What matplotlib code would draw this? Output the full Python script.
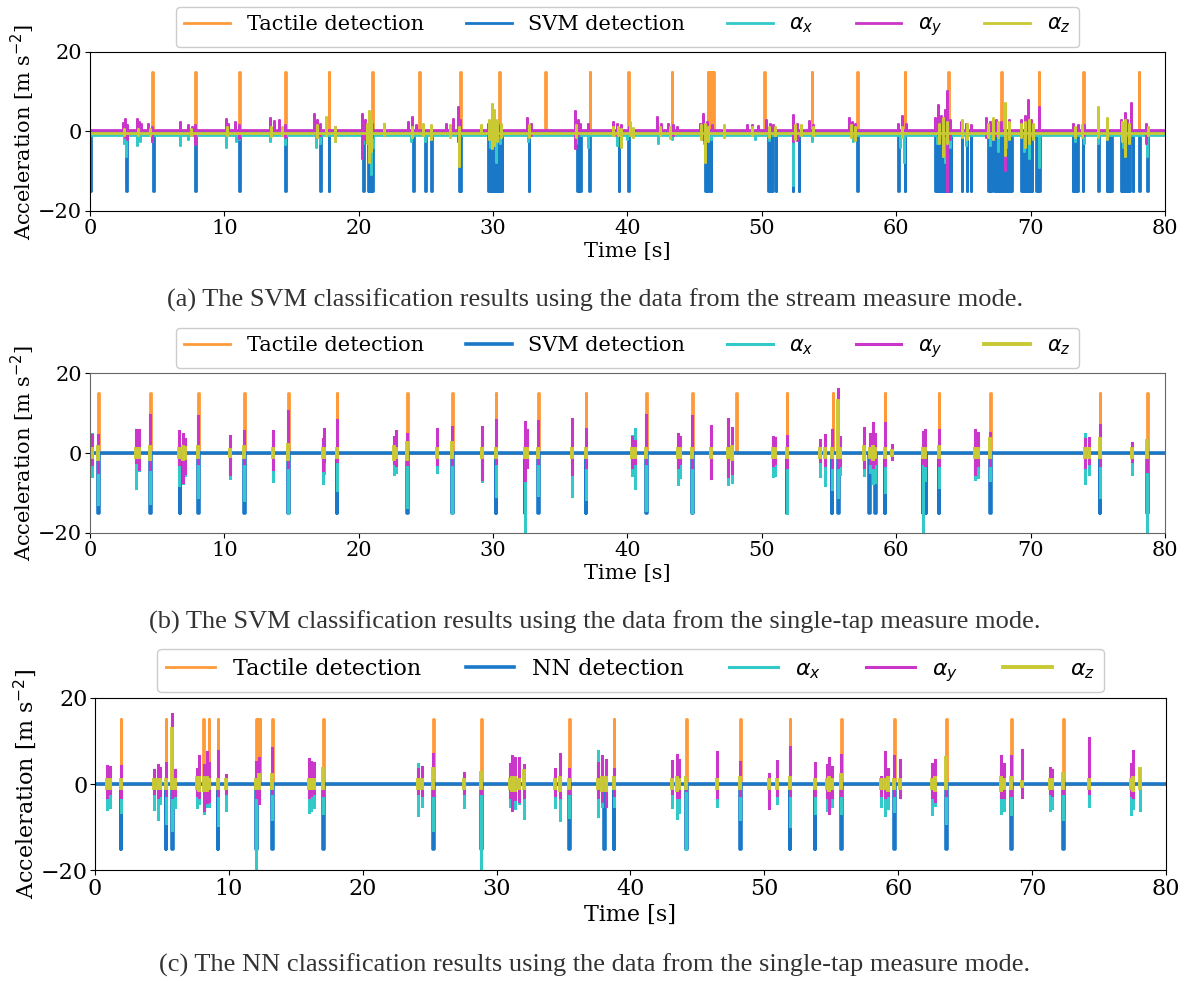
import numpy as np
import matplotlib.pyplot as plt

# ---------------- data ----------------
# tactile sensor pulses (0 -> 15) and classifier pulses (0 -> -15), times in s
tactile_a = [4.64, 7.84, 11.1, 14.53, 17.76, 21.0, 24.48, 27.56, 30.43, 33.88, 37.18,
             40.03, 43.3, 45.98, 46.08, 46.18, 46.3, 46.4, 50.15, 53.72, 57.1, 60.64,
             63.86, 67.81, 70.6, 73.9, 78.05]
svm_a = [0.0, 2.7, 4.7, 7.84, 11.1, 14.53, 17.14, 17.76, 20.34, 20.72, 20.8, 20.9, 21.0,
         24.06, 24.9, 24.97, 25.4, 27.46, 27.55, 29.62, 29.75, 29.86, 30.0, 30.1, 30.2,
         30.3, 30.4, 30.5, 30.65, 32.64, 36.26, 36.38, 36.5, 37.13, 39.34, 40.03, 45.78,
         45.9, 46.02, 46.18, 50.45, 50.6, 50.75, 51.02, 52.3, 52.73, 57.07, 60.17, 60.62,
         62.92, 63.02, 63.12, 63.22, 63.32, 63.42, 63.52, 63.62, 63.72, 63.82, 63.92, 64.04,
         64.88, 65.25, 65.53, 66.84, 66.95, 67.06, 67.31, 67.41, 67.5, 67.6, 67.7, 67.8,
         67.9, 68.0, 68.1, 68.2, 68.3, 68.42, 68.55, 69.3, 69.4, 69.5, 69.6, 69.7, 69.8,
         69.9, 70.0, 70.09, 70.41, 70.52, 70.66, 73.14, 73.25, 73.36, 73.46, 73.88, 75.05,
         75.67, 75.78, 75.88, 75.99, 76.73, 76.83, 76.93, 77.03, 77.15, 77.25, 77.36, 77.6,
         78.1, 78.65]

# stream mode accelerations: resting level and bursts (time, high, low)
ax_a_base, ay_a_base, az_a_base = -1.0, 0.4, -0.3
ay_a = [(2.45, 2.2, -0.5), (2.6, 3.1, -1.5), (2.75, 1.5, -2.0), (3.5, 3.1, 0), (3.65, 2.5, -0.3),
        (3.8, 1.8, 0), (4.3, 1.8, 0), (4.64, 1.2, -2.5), (6.7, 2.5, 0), (7.3, 1.6, 0),
        (7.6, 1.2, -0.5), (7.84, 1.6, -3.2), (10.1, 3.1, 0), (10.3, 2.0, -0.5), (10.8, 2.3, 0),
        (11.1, 1.5, -1.7), (13.4, 3.3, 0), (13.7, 2.6, -0.5), (14.1, 2.9, 0), (14.5, 1.5, -1.5),
        (16.7, 4.4, -0.5), (16.9, 3.0, -1.5), (17.1, 2.0, -0.8), (17.6, 2.0, -0.5),
        (18.2, 1.0, -1.0), (20.27, 4.4, -6.7), (20.5, 3.0, -2.0), (20.8, 4.1, -2.5),
        (21.0, 2.0, -1.5), (21.9, 2.0, 0), (23.7, 2.5, 0), (24.0, 3.7, -0.5), (24.3, 1.5, -0.5),
        (26.5, 2.0, 0), (27.0, 3.1, -0.5), (27.4, 6.2, -2.5), (27.55, 3.0, -1.0),
        (29.6, 2.0, -1.5), (29.9, 3.3, -2.0), (30.2, 2.5, -1.0), (30.5, 1.5, -1.0),
        (32.5, 3.5, 0), (32.8, 2.0, -1.0), (36.1, 5.1, -4.2), (36.3, 3.0, -1.0), (36.5, 2.0, 0),
        (37.1, 1.8, 0), (38.9, 2.5, 0), (39.2, 2.0, -1.0), (39.5, 1.5, 0), (40.1, 1.2, -0.5),
        (42.2, 3.7, 0), (42.5, 2.0, -0.5), (43.0, 1.8, 0), (43.4, 1.6, -0.8), (43.7, 1.2, 0),
        (45.4, 2.0, -0.5), (45.6, 4.3, -2.0), (45.9, 2.5, -1.0), (46.3, 1.5, -0.5),
        (47.2, 1.2, 0), (48.9, 1.6, 0), (49.3, 1.5, 0), (49.7, 1.4, 0), (50.3, 2.8, -0.5),
        (50.6, 2.0, -0.8), (50.8, 1.5, 0), (52.3, 4.1, -2.5), (52.6, 2.0, -2.1), (53.5, 2.6, 0),
        (53.8, 1.5, 0), (56.5, 3.3, 0), (56.7, 2.5, -0.5), (56.9, 2.0, 0), (60.1, 2.0, 0),
        (60.4, 4.0, -1.0), (60.7, 2.0, -0.5), (62.9, 3.5, 0), (63.1, 6.6, -1.0),
        (63.3, 4.0, -1.5), (63.6, 5.5, -1.0), (63.8, 10.2, -15.0), (64.0, 3.0, -2.0),
        (64.8, 2.5, 0), (65.2, 2.0, -0.5), (65.6, 1.5, 0), (66.7, 3.5, -1.5), (67.0, 2.5, -0.5),
        (67.4, 3.0, -1.0), (67.8, 2.5, -0.5), (68.1, 6.2, -9.7), (68.4, 3.0, -1.0),
        (69.3, 3.0, -0.5), (69.6, 4.0, -1.0), (69.8, 7.9, -1.5), (70.05, 3.0, -0.5),
        (70.6, 6.2, -0.5), (73.15, 1.8, 0), (73.5, 1.6, -0.5), (74.0, 1.5, -1.0),
        (75.7, 2.5, 0), (76.7, 3.0, -0.5), (77.0, 4.6, -1.0), (77.2, 3.0, -0.5),
        (77.5, 7.1, 0), (78.6, 1.8, -3.0)]
ax_a = [(2.5, -0.5, -3.0), (2.7, -0.5, -6.3), (3.5, -0.5, -3.4), (3.7, -0.5, -2.5),
        (4.64, -0.5, -2.5), (6.7, -0.5, -3.4), (7.3, -0.5, -2.0), (7.84, -0.5, -3.2),
        (10.1, -0.5, -4.0), (10.9, -0.5, -2.5), (11.1, -0.5, -2.0), (13.4, -0.5, -2.5),
        (14.5, -0.5, -3.2), (16.8, -0.5, -3.8), (17.1, -0.5, -3.0), (18.2, -0.5, -2.5),
        (20.3, -0.5, -3.0), (20.9, -0.5, -10.8), (21.1, -0.5, -4.0), (23.9, -0.5, -2.5),
        (24.9, -0.5, -2.5), (25.4, -0.5, -2.0), (27.5, -0.5, -3.0), (29.8, -0.5, -4.0),
        (30.2, 0.5, -7.6), (30.5, -0.5, -3.0), (32.6, -0.5, -2.5), (36.2, -0.5, -3.0),
        (37.1, -0.5, -3.8), (39.2, -0.5, -3.4), (40.0, -0.5, -2.0), (42.3, -0.5, -2.8),
        (43.3, -0.5, -2.0), (45.7, -0.5, -3.0), (46.2, -0.5, -2.0), (49.5, -0.5, -2.0),
        (50.5, -0.5, -2.2), (52.3, -0.5, -13.5), (53.7, -0.5, -2.5), (56.8, -0.5, -2.5),
        (60.3, -0.5, -4.0), (60.6, -0.5, -7.6), (63.0, -0.5, -3.0), (63.6, -0.5, -7.6),
        (64.0, -0.5, -4.0), (65.2, -0.5, -3.4), (67.0, -0.5, -3.5), (67.6, -0.5, -5.0),
        (68.2, -0.5, -4.0), (69.5, -0.5, -5.0), (69.9, -0.5, -6.7), (70.6, -0.5, -9.0),
        (73.3, -0.5, -2.5), (74.0, -0.5, -3.0), (75.0, -0.5, -3.0), (76.9, -0.5, -4.0),
        (78.65, -0.5, -6.3)]
az_a = [(2.5, 0.5, -1.0), (3.6, 0.5, -1.0), (4.5, 0.5, -1.0), (7.5, 0.5, -1.0), (10.2, 1.0, -1.0),
        (13.5, 1.0, -1.2), (14.3, 1.0, -1.0), (16.9, 1.5, -1.5), (17.6, 3.7, -1.0),
        (18.2, 1.0, -2.5), (20.6, 2.0, -3.0), (20.8, 5.2, -7.6), (20.95, 3.0, -5.0),
        (21.9, 2.0, -1.0), (24.0, 1.0, -1.5), (24.8, 2.0, -1.0), (25.4, 1.5, -2.0),
        (26.8, 1.5, -1.5), (27.5, 1.0, -8.8), (29.1, 1.7, -0.5), (29.7, 3.0, -2.0),
        (29.9, 6.8, -4.2), (30.1, 5.5, -3.5), (30.3, 3.0, -2.5), (30.6, 2.0, -1.5),
        (32.7, 1.5, -1.5), (36.2, 1.5, -1.5), (38.9, 1.0, -1.0), (39.3, 1.0, -1.0),
        (39.5, 0.5, -4.0), (40.2, 2.5, -1.0), (40.4, 0.8, -1.5), (42.4, 1.0, -1.0),
        (43.2, 1.0, -1.7), (45.5, 1.5, -2.0), (45.8, 2.0, -7.6), (46.0, 1.0, -2.5),
        (47.2, 1.5, -1.5), (49.3, 1.0, -1.0), (50.5, 1.0, -1.5), (51.0, 1.0, -1.0),
        (52.5, 1.5, -2.0), (52.9, 1.5, -1.0), (53.8, 1.0, -1.0), (56.6, 1.5, -1.5),
        (56.9, 1.0, -2.1), (60.4, 1.0, -1.5), (63.2, 2.0, -3.0), (63.5, 3.3, -6.3),
        (63.8, 2.5, -3.0), (64.9, 3.0, -1.5), (65.3, 2.0, -2.0), (66.8, 2.0, -1.5),
        (67.2, 3.5, -2.0), (67.6, 2.5, -1.5), (68.1, 7.1, -5.9), (68.4, 2.5, -2.0),
        (69.3, 2.0, -1.5), (69.6, 2.5, -4.0), (69.9, 3.0, -3.0), (70.2, 2.0, -2.0),
        (73.3, 1.0, -1.5), (73.8, 1.5, -1.5), (75.0, 6.1, -1.5), (75.7, 3.3, -2.0),
        (76.8, 2.5, -2.5), (77.0, 3.0, -6.3), (77.3, 2.0, -3.0), (78.7, 1.0, -1.0)]

tactile_b = [0.63, 4.5, 8.03, 11.48, 14.73, 18.35, 23.62, 26.98, 30.2, 33.36, 36.9, 41.41,
             44.82, 48.07, 51.85, 55.26, 59.13, 63.16, 66.97, 75.15, 78.67]
svm_b = [0.63, 4.5, 6.67, 8.03, 11.48, 14.73, 18.35, 23.62, 26.98, 30.2, 32.34, 33.36, 36.9,
         41.41, 44.82, 51.85, 55.2, 55.66, 58.0, 58.42, 59.13, 61.97, 62.2, 63.16, 66.97,
         75.15, 78.67]
# single-tap taps: (time, ay high, ay low, ax high, ax low, az high, az low)
taps_b = [(0.14, 4.4, -2.7, 4.8, -5.8, 1.0, -1.0), (0.63, 4.4, -4.75, 1.0, -12.7, 1.5, -1.5),
          (3.42, 5.7, -2.2, 1.0, -8.7, 1.0, -1.0), (3.62, 5.8, -3.9, 1.0, -4.3, 1.0, -1.0),
          (4.5, 9.4, -3.9, 1.0, -12.5, 1.5, -1.5), (6.6, 5.4, -2.7, 1.0, -8.0, 1.0, -1.0),
          (6.9, 4.8, -7.2, 1.0, -7.5, 1.5, -1.5), (7.1, 3.6, -5.0, 1.0, -5.5, 1.2, -1.2),
          (8.03, 9.2, -2.5, 1.0, -11.0, 1.5, -1.0), (10.4, 4.2, -5.2, 1.0, -6.2, 0.8, -0.8),
          (11.48, 5.4, -2.5, 1.0, -11.8, 1.5, -1.0), (13.65, 5.4, -3.9, 1.0, -7.0, 1.0, -1.0),
          (14.73, 10.5, -3.5, 1.0, -15.0, 2.0, -1.5), (17.32, 3.6, -4.3, 1.0, -7.5, 1.0, -1.0),
          (17.43, 6.1, -2.0, 1.0, -5.0, 1.0, -1.0), (18.35, 8.3, -2.0, 1.0, -9.3, 1.0, -1.0),
          (22.6, 4.0, -2.5, 1.0, -5.2, 1.5, -1.5), (22.75, 5.4, -3.0, 1.0, -4.8, 1.0, -1.0),
          (23.62, 4.7, -2.7, 1.0, -13.5, 2.5, -1.5), (25.84, 6.1, -2.7, 1.0, -4.75, 1.0, -1.0),
          (26.98, 6.5, -2.7, 1.0, -15.0, 2.5, -1.0), (29.15, 4.0, -6.4, 1.0, -7.0, 1.0, -1.0),
          (29.2, 6.5, -3.0, 1.0, -5.0, 1.0, -1.0), (30.2, 8.2, -2.5, 1.0, -10.8, 1.0, -1.0),
          (32.34, 7.8, -6.8, 1.0, -20.0, 1.0, -1.0), (32.56, 5.8, -3.5, 1.0, -3.5, 1.0, -1.0),
          (33.36, 7.9, -2.5, 1.0, -10.6, 1.0, -1.0), (35.84, 8.6, -5.2, 1.0, -10.8, 1.0, -1.0),
          (36.9, 6.1, -3.5, 1.0, -11.4, 1.0, -1.0), (40.37, 4.0, -3.5, 4.2, -5.6, 1.0, -1.0),
          (40.56, 3.0, -2.5, 5.9, -8.7, 1.0, -1.0), (41.41, 9.4, -2.5, 1.0, -14.3, 1.0, -1.0),
          (43.75, 4.8, -3.5, 1.0, -7.7, 1.0, -1.0), (43.92, 4.0, -2.5, 1.0, -6.0, 1.0, -1.0),
          (44.82, 9.2, -3.5, 1.0, -14.8, 1.0, -1.0), (46.23, 6.7, -6.25, 1.0, -6.25, 1.0, -1.0),
          (47.47, 8.6, -5.75, 1.0, -7.8, 1.0, -1.0), (47.76, 6.3, -5.0, 1.0, -7.2, 1.5, -1.5),
          (50.8, 4.0, -3.0, 4.0, -5.8, 1.0, -1.0), (51.0, 3.8, -2.5, 1.0, -5.5, 1.0, -1.0),
          (51.85, 4.2, -3.5, 1.0, -15.0, 1.0, -1.0), (54.36, 3.2, -2.0, 1.0, -5.8, 1.0, -1.0),
          (54.67, 4.4, -3.0, 1.0, -8.0, 1.0, -1.0), (55.2, 5.8, -3.5, 1.0, -9.0, 1.0, -1.0),
          (55.66, 16.0, -3.5, 1.0, -11.0, 13.0, -1.0), (55.83, 4.0, -3.0, 1.0, -5.3, 1.0, -1.0),
          (57.63, 6.25, -3.5, 1.0, -5.6, 1.5, -1.5), (58.02, 4.8, -2.5, 1.0, -4.75, 1.0, -1.0),
          (58.25, 7.5, -3.5, 1.0, -7.5, 1.5, -1.5), (58.42, 4.8, -2.5, 1.0, -7.2, 1.0, -1.0),
          (59.13, 7.5, -3.0, 1.0, -9.75, 1.0, -1.0), (59.69, 1.9, -1.5, 1.0, -1.0, 0.5, -0.5),
          (61.97, 5.3, -2.5, 1.0, -20.0, 1.0, -1.0), (62.14, 5.8, -3.0, 1.0, -6.8, 1.0, -1.0),
          (63.16, 5.7, -3.0, 1.0, -8.5, 1.5, -1.0), (65.9, 5.7, -5.2, 1.0, -6.4, 1.0, -1.0),
          (66.1, 5.0, -3.0, 1.0, -6.0, 1.0, -1.0), (66.97, 5.0, -3.0, 1.0, -6.8, 3.5, -1.0),
          (74.08, 3.6, -3.5, 4.7, -7.5, 1.0, -1.0), (74.36, 3.8, -2.5, 1.0, -5.2, 1.0, -1.0),
          (75.15, 6.9, -3.0, 1.0, -11.0, 3.5, -1.0), (77.52, 2.5, -2.0, 1.0, -5.3, 1.0, -1.0),
          (78.67, 3.3, -4.5, 1.0, -20.0, 3.0, -1.0)]

tactile_c = [1.92, 5.27, 8.07, 8.5, 9.16, 12.02, 12.15, 12.3, 13.23, 17.03, 25.25, 28.83,
             35.4, 38.75, 44.15, 48.17, 51.9, 55.76, 59.72, 63.56, 68.42, 72.32]
nn_c = [1.92, 5.27, 5.78, 9.16, 12.02, 13.23, 17.03, 25.25, 28.83, 35.4, 38.04, 38.75,
        44.15, 48.17, 51.9, 53.77, 55.76, 59.72, 63.56, 68.42, 72.32]
taps_c = [(0.92, 4.2, -3.0, 1.0, -5.7, 1.0, -1.0), (1.15, 4.0, -2.0, 1.0, -5.3, 1.0, -1.0),
          (1.92, 4.2, -3.0, 1.0, -6.4, 1.0, -1.0), (4.4, 3.3, -2.0, 1.0, -5.8, 1.0, -1.0),
          (4.72, 4.4, -3.0, 1.0, -8.2, 1.0, -1.0), (4.87, 3.7, -2.5, 1.0, -4.5, 1.0, -1.0),
          (5.27, 4.8, -2.5, 1.0, -9.0, 1.0, -1.0), (5.78, 16.2, -3.0, 1.0, -10.7, 12.9, -1.0),
          (5.98, 3.3, -2.5, 1.0, -5.3, 1.0, -1.0), (7.64, 3.4, -2.5, 1.0, -5.3, 1.5, -1.0),
          (7.79, 6.5, -3.0, 1.0, -4.5, 1.5, -1.5), (8.13, 4.5, -6.0, 1.0, -6.8, 1.5, -1.5),
          (8.36, 7.5, -4.2, 1.0, -5.0, 1.5, -1.5), (8.5, 5.0, -4.0, 1.0, -5.0, 1.0, -1.0),
          (9.16, 7.75, -2.5, 1.0, -9.5, 1.0, -1.0), (9.79, 2.1, -2.0, 1.0, -6.0, 1.0, -1.0),
          (12.02, 5.2, -3.0, 1.0, -20.0, 1.0, -1.0), (12.25, 6.0, -4.5, 1.0, -4.5, 2.0, -1.0),
          (13.23, 8.4, -2.0, 1.0, -8.2, 2.0, -1.0), (15.95, 5.7, -3.0, 1.0, -6.4, 1.0, -1.0),
          (16.15, 5.2, -2.5, 1.0, -6.0, 1.0, -1.0), (16.38, 4.8, -2.0, 1.0, -5.3, 1.0, -1.0),
          (17.03, 3.6, -2.5, 1.0, -6.8, 3.6, -1.0), (24.16, 3.5, -2.0, 4.6, -7.2, 1.0, -1.0),
          (24.45, 4.0, -2.5, 1.0, -5.0, 1.0, -1.0), (25.25, 6.9, -2.5, 1.0, -10.7, 3.5, -1.0),
          (27.6, 2.6, -2.0, 1.0, -5.3, 1.0, -1.0), (28.83, 2.0, -2.0, 1.0, -20.0, 2.5, -1.0),
          (30.98, 4.6, -3.0, 1.0, -5.0, 1.0, -1.0), (31.18, 6.5, -6.0, 1.0, -5.5, 1.5, -1.5),
          (31.4, 6.0, -3.5, 1.0, -5.5, 1.5, -1.5), (31.7, 6.0, -4.0, 1.0, -4.5, 1.0, -1.0),
          (32.07, 4.4, -3.0, 1.0, -8.0, 3.0, -1.0), (34.33, 3.4, -2.5, 1.0, -5.3, 1.0, -1.0),
          (34.7, 7.0, -3.0, 1.0, -8.4, 1.5, -1.5), (35.4, 3.6, -2.0, 1.0, -7.6, 1.0, -1.0),
          (37.6, 5.0, -3.0, 7.6, -7.5, 1.0, -1.0), (37.9, 6.6, -4.0, 1.0, -5.0, 1.5, -1.5),
          (38.2, 5.6, -5.2, 1.0, -5.0, 1.5, -1.5), (38.75, 3.6, -2.5, 1.0, -5.0, 1.5, -1.0),
          (43.1, 5.3, -2.0, 1.0, -5.3, 1.0, -1.0), (43.44, 6.8, -3.0, 1.0, -7.9, 1.5, -1.5),
          (43.64, 5.5, -3.0, 1.0, -6.5, 1.0, -1.0), (44.15, 1.7, -1.5, 1.0, -15.0, 1.5, -1.0),
          (46.49, 7.4, -3.0, 1.0, -5.2, 1.0, -1.0), (48.17, 5.1, -2.5, 1.0, -8.2, 1.5, -1.0),
          (50.36, 2.3, -5.6, 1.0, -1.0, 1.0, -1.0), (50.95, 5.3, -2.5, 1.0, -4.4, 1.0, -1.0),
          (51.9, 8.7, -2.5, 1.0, -9.8, 1.5, -1.0), (53.77, 4.9, -2.5, 1.0, -6.7, 1.0, -1.0),
          (54.68, 4.5, -3.0, 1.0, -6.0, 1.0, -1.0), (54.85, 6.1, -6.7, 1.0, -5.0, 1.5, -1.5),
          (55.08, 4.0, -3.0, 1.0, -5.2, 1.0, -1.0), (55.76, 6.8, -2.5, 1.0, -6.7, 2.0, -1.0),
          (58.72, 1.7, -2.5, 1.0, -5.0, 1.0, -1.0), (59.0, 7.4, -3.0, 1.0, -7.1, 1.0, -1.0),
          (59.23, 3.6, -2.5, 1.0, -5.5, 1.5, -1.5), (59.72, 6.6, -2.5, 1.0, -6.3, 1.0, -1.0),
          (60.14, 5.5, -3.0, 1.0, -1.0, 1.0, -1.0), (62.5, 4.6, -3.0, 1.0, -6.9, 1.0, -1.0),
          (62.73, 5.6, -4.0, 1.0, -4.8, 1.5, -1.5), (63.56, 6.1, -2.5, 1.0, -9.0, 6.1, -1.0),
          (67.68, 6.6, -3.0, 1.0, -6.7, 1.5, -1.5), (67.9, 4.7, -3.0, 1.0, -6.0, 1.0, -1.0),
          (68.42, 6.6, -2.5, 1.0, -7.0, 1.5, -1.0), (69.27, 7.8, -3.0, 1.0, -1.0, 0.5, -0.5),
          (71.32, 3.8, -2.0, 1.0, -6.0, 1.0, -1.0), (71.52, 3.2, -2.5, 1.0, -5.5, 1.0, -1.0),
          (72.32, 2.3, -2.0, 1.0, -8.2, 2.3, -1.0), (74.22, 10.7, -2.0, 1.0, -5.0, 1.0, -1.0),
          (77.38, 4.6, -2.5, 1.0, -7.0, 1.0, -1.0), (77.55, 7.6, -3.0, 1.0, -5.5, 1.5, -1.5),
          (78.1, 1.0, -1.0, 1.0, -6.1, 3.4, -1.0)]

captions = ["(a) The SVM classification results using the data from the stream measure mode.",
            "(b) The SVM classification results using the data from the single-tap measure mode.",
            "(c) The NN classification results using the data from the single-tap measure mode."]

ORANGE, BLUE = '#ff9a3a', '#1a78c8'
CYAN, MAGENTA, YELLOW = '#33c9c9', '#c936c9', '#c9c933'
PULSE = 0.05
T_END = 80

plt.rcParams['font.family'] = 'DejaVu Serif'
plt.rcParams['mathtext.fontset'] = 'dejavusans'


def pulses(times, level):
    t, v = [0], [0]
    for s in times:
        t += [s, s, s + PULSE, s + PULSE]
        v += [0, level, level, 0]
    t.append(T_END)
    v.append(0)
    return t, v


def stream(base, bursts):
    t, v = [0], [base]
    for s, hi, lo in bursts:
        t += [s, s, s, s]
        v += [base, hi, lo, base]
    t.append(T_END)
    v.append(base)
    return t, v


def segments(taps, hi_i, lo_i):
    t, v = [], []
    for row in taps:
        t += [row[0], row[0], np.nan]
        v += [row[lo_i], row[hi_i], np.nan]
    return t, v


def style_axes(ax, fs, spine_col):
    ax.set_xlim(0, 80)
    ax.set_ylim(-20, 20)
    ax.set_xticks(range(0, 81, 10))
    ax.set_yticks([-20, 0, 20])
    ax.tick_params(labelsize=fs, colors='black', pad=2)
    for sp in ax.spines.values():
        sp.set_color(spine_col)
    ax.set_xlabel('Time [s]', fontsize=fs, labelpad=3)
    ax.set_ylabel('Acceleration [m s$^{-2}$]', fontsize=fs, labelpad=1)


def add_legend(ax, fs):
    ax.legend(loc='lower center', bbox_to_anchor=(0.5, 1.0), ncol=5, fontsize=fs,
              handlelength=2.2, handletextpad=0.8, columnspacing=2.0,
              borderaxespad=0.25, framealpha=1, edgecolor='#cccccc')


fig = plt.figure(figsize=(11.85, 9.81), dpi=100)
ax1 = fig.add_axes([0.0759, 0.785, 0.9072, 0.162])
ax2 = fig.add_axes([0.0759, 0.4567, 0.9072, 0.163])
ax3 = fig.add_axes([0.0802, 0.1131, 0.9037, 0.1754])

# (a) stream mode
ax1.plot(*pulses(tactile_a, 15), color=ORANGE, lw=2.0, label='Tactile detection')
ax1.plot(*pulses(svm_a, -15), color=BLUE, lw=2.0, label='SVM detection')
ax1.plot(*stream(ax_a_base, ax_a), color=CYAN, lw=2.0, label=r'$\alpha_x$')
ax1.plot(*stream(ay_a_base, ay_a), color=MAGENTA, lw=2.0, label=r'$\alpha_y$')
ax1.plot(*stream(az_a_base, az_a), color=YELLOW, lw=2.0, label=r'$\alpha_z$')
style_axes(ax1, 15, 'black')
add_legend(ax1, 15)

# (b) and (c) single-tap mode
for ax, tact, det, taps, name, fs, sc in [
        (ax2, tactile_b, svm_b, taps_b, 'SVM detection', 15, '#666666'),
        (ax3, tactile_c, nn_c, taps_c, 'NN detection', 16, 'black')]:
    ax.plot(*pulses(tact, 15), color=ORANGE, lw=2.0, label='Tactile detection')
    ax.plot(*pulses(det, -15), color=BLUE, lw=2.6, label=name)
    ax.plot(*segments(taps, 3, 4), color=CYAN, lw=2.2, label=r'$\alpha_x$')
    ax.plot(*segments(taps, 1, 2), color=MAGENTA, lw=2.2, label=r'$\alpha_y$')
    ax.plot(*segments(taps, 5, 6), color=YELLOW, lw=2.8, label=r'$\alpha_z$')
    style_axes(ax, fs, sc)
    add_legend(ax, fs)

for y, txt in zip([0.694, 0.366, 0.0163], captions):
    fig.text(0.502, y, txt, ha='center', va='center', fontsize=19,
             family='Liberation Serif', color='#333333')

fig.savefig('out.png', dpi=100)
